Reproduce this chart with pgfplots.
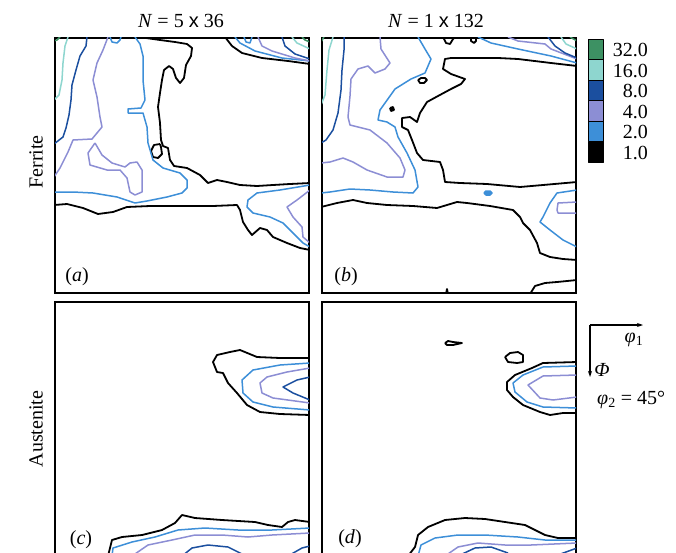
\documentclass[border=0pt]{standalone}
\usepackage{fontspec}
\setmainfont{Liberation Serif}
\setsansfont{Liberation Sans}
\usepackage{pgfplots}
\pgfplotsset{compat=1.18}
\usetikzlibrary{arrows.meta}
\definecolor{cA}{HTML}{3D9163}
\definecolor{cB}{HTML}{8ED6CF}
\definecolor{cC}{HTML}{1B4F9F}
\definecolor{cD}{HTML}{8C8ED4}
\definecolor{cE}{HTML}{3D8FD8}
\pgfplotsset{
  panel/.style={scale only axis, width=254pt, height=255pt, y dir=reverse,
    ticks=none, axis line style={line width=1.6pt}, clip=true, anchor=north west},
  every axis plot/.append style={mark=none, line join=round},
  k1/.style={black, line width=1.8pt},
  k2/.style={cE, line width=1.5pt},
  k4/.style={cD, line width=1.5pt},
  k8/.style={cC, line width=1.5pt},
  k16/.style={cB, line width=1.5pt},
  k32/.style={cA, line width=1.5pt},
}
\begin{document}
\begin{tikzpicture}
\useasboundingbox (0,0) rectangle (676pt,-553pt);
\clip (0,0) rectangle (676pt,-553pt);
\fontsize{20}{22}\selectfont
% ---------- (a)
\begin{axis}[panel, at={(55pt,-38pt)}, xmin=55, xmax=309, ymin=38, ymax=293]
\addplot[k1] coordinates {(146,38)(160,40)(175,42)(187,44)(192,48)(191,56)(186,65)(184,78)(180,83)(176,78)(173,69)(169,66)(164,70)(162,80)(160,93)(158,107)(160,123)(161,140)(163,146)(168,148)(170,160)(174,166)(187,168)(200,175)(208,183)(217,180)(227,182)(240,185)(257,186)(273,185)(290,184)(310,183)};
\addplot[k1] coordinates {(160,144)(154,145)(151,151)(153,157)(158,158)(162,154)(161,147)(160,144)};
\addplot[k1] coordinates {(54,205)(67,204)(83,208)(98,214)(113,212)(127,207)(150,206)(173,206)(213,206)(237,205)(240,210)(243,222)(248,230)(252,235)(260,228)(267,230)(273,237)(287,243)(300,248)(310,250)};
\addplot[k1] coordinates {(225,37)(232,46)(242,53)(262,58)(288,61)(310,64)};
\addplot[k2] coordinates {(135,37)(140,44)(143,56)(143,80)(145,100)(141,108)(128,109)(128,113)(143,113)(147,127)(148,143)(153,160)(163,168)(180,173)(187,180)(187,188)(182,193)(167,197)(147,201)(135,203)(117,197)(93,193)(73,192)(54,192)};
\addplot[k2] coordinates {(310,185)(280,190)(257,193)(248,200)(247,207)(253,213)(270,217)(283,223)(293,233)(303,243)(310,247)};
\addplot[k2] coordinates {(235,37)(240,43)(255,51)(282,58)(310,61)};
\addplot[k2] coordinates {(110,37)(112,42)(117,43)(120,40)(121,37)};
\addplot[k2] coordinates {(244,37)(246,42)(250,43)(252,37)};
\addplot[k4] coordinates {(108,37)(103,50)(97,63)(93,80)(97,97)(100,117)(102,127)(92,139)(73,140)(68,152)(60,168)(54,177)};
\addplot[k4] coordinates {(95,143)(88,153)(90,165)(107,170)(120,170)(127,178)(130,192)(135,195)(142,192)(142,170)(137,162)(130,163)(125,167)(112,163)(102,155)(95,143)};
\addplot[k4] coordinates {(310,190)(297,200)(287,207)(293,217)(302,227)(303,237)(310,243)};
\addplot[k4] coordinates {(258,37)(262,46)(272,51)(295,58)(310,61)};
\addplot[k8] coordinates {(87,37)(86,46)(80,56)(76,70)(72,85)(71,100)(69,115)(66,128)(63,137)(54,144)};
\addplot[k8] coordinates {(282,37)(285,46)(295,54)(310,59)};
\addplot[k16] coordinates {(68,37)(65,46)(63,63)(62,80)(59,95)(54,100)};
\addplot[k16] coordinates {(292,37)(297,43)(310,49)};
\addplot[k32] coordinates {(54,41)(57,40)(60,37)};
\addplot[k32] coordinates {(302,37)(305,40)(310,42)};
\node at (axis cs:77,277) {(\textit{a})};
\end{axis}
% ---------- (b)
\begin{axis}[panel, at={(322pt,-38pt)}, xmin=322, xmax=576, ymin=38, ymax=293]
\addplot[k1] coordinates {(577,66)(551,63)(518,59)(498,58)(451,58)(445,59)(443,69)(451,74)(465,79)(461,84)(451,89)(438,96)(427,102)(420,113)(417,122)(410,117)(402,118)(402,127)(408,130)(412,140)(417,153)(423,160)(440,162)(443,170)(445,182)(460,183)(487,184)(520,187)(543,185)(577,182)};
\addplot[k1] coordinates {(321,207)(337,203)(353,200)(367,203)(387,205)(413,206)(437,208)(457,202)(467,203)(490,206)(513,210)(520,217)(523,223)(530,230)(537,243)(540,253)(550,257)(563,259)(577,260)};
\addplot[k1] coordinates {(530,294)(535,286)(545,283)(557,282)(577,280)};
\addplot[k1] coordinates {(443,37)(446,43)(450,44)(453,39)(455,37)};
\addplot[k1] coordinates {(471,37)(471,41)(474,43)(476,41)(476,37)};
\addplot[k1] coordinates {(418,80)(421,78)(425,78)(427,80)(424,83)(420,83)(418,80)};
\addplot[k1, fill=black] coordinates {(390,108)(393,107)(394,110)(391,111)(390,108)};
\addplot[k1] coordinates {(446,294)(447,289)(448,294)};
\addplot[k2] coordinates {(418,37)(425,49)(431,59)(425,73)(411,79)(395,89)(385,103)(380,110)(378,120)(387,122)(395,127)(398,137)(407,153)(415,170)(418,187)(413,193)(393,192)(370,190)(350,189)(330,192)(321,193)};
\addplot[k2] coordinates {(478,37)(491,43)(518,49)(551,56)(577,63)};
\addplot[k2] coordinates {(577,190)(557,193)(550,203)(543,217)(540,222)(550,230)(563,240)(577,247)};
\addplot[k2, fill=cE] coordinates {(484,193)(486,191)(490,191)(492,193)(490,195)(486,195)(484,193)};
\addplot[k4] coordinates {(380,37)(381,49)(390,63)(385,69)(375,73)(368,66)(358,69)(351,79)(350,96)(348,117)(350,125)(370,130)(387,143)(400,158)(405,170)(403,177)(387,177)(367,170)(353,162)(343,158)(330,162)(321,163)};
\addplot[k4] coordinates {(508,37)(518,41)(545,44)(551,49)(577,59)};
\addplot[k4] coordinates {(577,202)(558,203)(557,210)(558,213)(577,213)};
\addplot[k8] coordinates {(344,37)(344,50)(342,70)(341,90)(338,113)(333,130)(326,140)(321,143)};
\addplot[k8] coordinates {(548,37)(555,46)(565,53)(577,58)};
\addplot[k16] coordinates {(333,37)(329,50)(327,70)(325,95)(321,105)};
\addplot[k16] coordinates {(561,37)(566,44)(577,49)};
\addplot[k32] coordinates {(321,42)(324,37)};
\addplot[k32] coordinates {(570,37)(577,41)};
\node at (axis cs:346,277) {(\textit{b})};
\end{axis}
% ---------- (c)
\begin{axis}[panel, at={(55pt,-302pt)}, xmin=55, xmax=309, ymin=302, ymax=557]
\addplot[k1] coordinates {(310,358)(280,358)(257,357)(240,350)(230,352)(217,355)(213,362)(217,372)(223,373)(228,383)(237,393)(247,405)(260,412)(280,414)(310,415)};
\addplot[k2] coordinates {(310,363)(280,365)(253,370)(242,380)(243,393)(253,402)(273,407)(310,410)};
\addplot[k4] coordinates {(310,368)(287,372)(267,377)(260,383)(262,393)(273,398)(310,403)};
\addplot[k8] coordinates {(310,377)(297,380)(283,387)(293,393)(310,400)};
\addplot[k1] coordinates {(108,556)(112,540)(122,537)(142,535)(162,530)(175,523)(182,515)(195,518)(222,520)(255,522)(268,525)(282,527)(288,522)(295,520)(310,522)};
\addplot[k2] coordinates {(112,556)(113,548)(132,542)(155,537)(178,530)(205,528)(238,530)(272,530)(310,528)};
\addplot[k4] coordinates {(132,556)(148,545)(172,540)(195,535)(222,535)(248,537)(272,535)(310,533)};
\addplot[k8] coordinates {(182,556)(192,548)(208,545)(228,547)(242,554)};
\addplot[k8] coordinates {(288,556)(302,548)(310,546)};
\node at (axis cs:81,540) {(\textit{c})};
\end{axis}
% ---------- (d)
\begin{axis}[panel, at={(322pt,-302pt)}, xmin=322, xmax=576, ymin=302, ymax=557]
\addplot[k1] coordinates {(445,343)(448,341)(453,342)(462,343)(453,345)(447,345)(445,343)};
\addplot[k1] coordinates {(505,357)(510,353)(518,352)(523,355)(523,362)(517,363)(508,362)(505,357)};
\addplot[k1] coordinates {(577,362)(543,363)(532,368)(515,375)(507,382)(507,390)(513,397)(523,405)(540,412)(550,415)(563,413)(577,413)};
\addplot[k2] coordinates {(577,366)(543,367)(523,375)(513,383)(515,392)(527,402)(543,407)(577,408)};
\addplot[k4] coordinates {(577,375)(543,376)(528,385)(540,398)(553,400)(577,397)};
\addplot[k1] coordinates {(408,556)(415,547)(418,535)(428,527)(445,520)(465,518)(485,519)(505,522)(525,525)(545,535)(558,538)(571,538)(577,538)};
\addplot[k2] coordinates {(418,556)(421,545)(435,538)(458,535)(485,535)(518,537)(545,540)(577,540)};
\addplot[k4] coordinates {(445,556)(458,547)(478,543)(505,545)(531,545)(577,543)};
\addplot[k8] coordinates {(458,556)(475,548)(491,547)(508,553)};
\addplot[k8] coordinates {(555,556)(577,548)};
\node at (axis cs:350,539) {(\textit{d})};
\end{axis}
% ---------- colour bar
\begin{axis}[scale only axis, width=15pt, height=123pt, at={(588pt,-162pt)}, anchor=south west,
  xmin=0, xmax=1, ymin=0, ymax=6, hide axis, clip=false]
\addplot[fill=black, draw=black, line width=0.6pt] coordinates {(0,0)(1,0)(1,1)(0,1)} -- cycle;
\addplot[fill=cE, draw=black, line width=0.6pt] coordinates {(0,1)(1,1)(1,2)(0,2)} -- cycle;
\addplot[fill=cD, draw=black, line width=0.6pt] coordinates {(0,2)(1,2)(1,3)(0,3)} -- cycle;
\addplot[fill=cC, draw=black, line width=0.6pt] coordinates {(0,3)(1,3)(1,4)(0,4)} -- cycle;
\addplot[fill=cB, draw=black, line width=0.6pt] coordinates {(0,4)(1,4)(1,5)(0,5)} -- cycle;
\addplot[fill=cA, draw=black, line width=0.6pt] coordinates {(0,5)(1,5)(1,6)(0,6)} -- cycle;
\end{axis}
\node[anchor=east, inner sep=0pt] at (648pt,-50pt) {32.0};
\node[anchor=east, inner sep=0pt] at (648pt,-70.5pt) {16.0};
\node[anchor=east, inner sep=0pt] at (648pt,-91pt) {8.0};
\node[anchor=east, inner sep=0pt] at (648pt,-111.5pt) {4.0};
\node[anchor=east, inner sep=0pt] at (648pt,-132pt) {2.0};
\node[anchor=east, inner sep=0pt] at (648pt,-152.5pt) {1.0};
% ---------- titles
\node at (181pt,-21pt) {\textit{N} = 5 {\sffamily x} 36};
\node at (436pt,-21pt) {\textit{N} = 1 {\sffamily x} 132};
\node[rotate=90] at (36pt,-162pt) {Ferrite};
\node[rotate=90] at (36pt,-429pt) {Austenite};
% ---------- orientation key
\draw[line width=1.1pt, -{Stealth[length=6pt,width=4pt]}] (590pt,-325pt) -- (643pt,-325pt);
\draw[line width=1.1pt, -{Stealth[length=6pt,width=4pt]}] (590pt,-325pt) -- (590pt,-377pt);
\node at (634pt,-340pt) {\textit{φ}\textsubscript{1}};
\node at (602pt,-370pt) {\textit{Φ}};
\node[anchor=west, inner sep=0pt] at (597pt,-400pt) {\textit{φ}\textsubscript{2} = 45°};
\end{tikzpicture}
\end{document}
